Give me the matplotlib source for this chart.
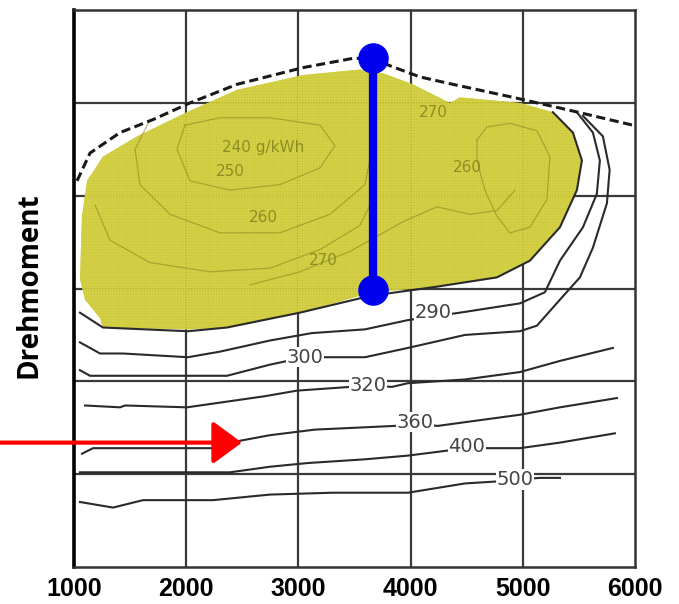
import matplotlib
matplotlib.use("Agg")
from matplotlib import pyplot as plt

# engine speed ticks (rpm)
rpm_ticks = [1000, 2000, 3000, 4000, 5000, 6000]
torque_grid = [0, 50, 100, 150, 200, 250, 300]

# full load curve (dashed)
full_rpm = [1027, 1143, 1410, 1704, 2034, 2453, 3041, 3487, 3665, 3817, 4084, 4378, 4913, 5421, 5982]
full_tq = [208, 223, 234, 241, 250, 260, 269, 274, 274, 270, 264, 260, 253, 246, 238]

# highlighted (yellow) operating area
area_rpm = [3549, 3041, 2453, 2007, 1562, 1258, 1116, 1071, 1053, 1098, 1232, 1258, 2016, 2364, 3014,
            3665, 4235, 4770, 5064, 5332, 5483, 5528, 5448, 5269, 4975, 4440, 4351, 4021, 3754]
area_tq = [268, 265, 257, 245, 232, 221, 208, 189, 155, 144, 134, 129, 128, 129, 137,
           148, 151, 156, 165, 183, 203, 219, 234, 245, 250, 253, 250, 260, 266]

# bsfc lines below the area (g/kWh)
edge_rpm = [1053, 1258, 2016, 2364, 3014, 3638, 4235, 4770, 5064, 5332, 5483, 5528, 5448, 5269]
edge_tq = [137, 129, 127, 129, 137, 146, 151, 156, 165, 183, 203, 219, 234, 245]

l290_rpm = [1053, 1232, 1437, 2016, 2301, 2747, 3121, 3594, 3977, 4440, 4975, 5198, 5332, 5537, 5661, 5688, 5626, 5483]
l290_tq = [121, 115, 115, 113, 116, 122, 126, 128, 133, 137, 142, 148, 165, 183, 201, 219, 234, 245]

l300_rpm = [1053, 1143, 2364, 2747, 3059, 3264, 3594, 3977, 4485, 4975, 5127, 5332, 5510, 5626, 5751, 5775, 5715, 5537]
l300_tq = [106, 103, 103, 109, 113, 113, 113, 118, 125, 127, 130, 144, 156, 172, 196, 214, 232, 243]

l320_rpm = [1098, 1410, 1455, 2007, 2702, 2988, 3460, 3620, 3834, 3977, 4485, 4975, 5332, 5804]
l320_tq = [87, 86, 87, 86, 92, 95, 97, 98, 97, 99, 101, 105, 111, 118]

l360_rpm = [1071, 1169, 2239, 2480, 2747, 3148, 3861, 4039, 4244, 4485, 4975, 5332, 5840]
l360_tq = [61, 64, 64, 68, 71, 74, 76, 77, 76, 78, 82, 86, 91]

l400_rpm = [1053, 2390, 2747, 3086, 3594, 3977, 4369, 4503, 4681, 4975, 5332, 5822]
l400_tq = [51, 51, 54, 56, 58, 60, 63, 64, 64, 64, 67, 72]

l500_rpm = [1053, 1348, 1615, 2239, 2747, 3300, 3977, 4485, 4752, 4931, 5153, 5332]
l500_tq = [35, 32, 36, 36, 39, 40, 40, 45, 46, 47, 48, 48]

line_labels = ["290", "300", "320", "360", "400", "500"]
label_rpm = [4200, 3059, 3620, 4039, 4503, 4931]
label_tq = [137, 113, 98, 78, 65, 47]

# faint lines inside the area
c240_rpm = [1989, 1918, 2034, 2390, 2836, 3193, 3326, 3193, 2747, 2301, 1989]
c240_tq = [238, 225, 208, 203, 206, 215, 227, 238, 242, 242, 238]
c250_rpm = [1677, 1544, 1588, 1856, 2301, 2836, 3282, 3594, 3656]
c250_tq = [241, 225, 206, 190, 180, 180, 190, 206, 225]
c260_rpm = [1187, 1321, 1677, 2212, 2747, 3193, 3549, 3665]
c260_tq = [195, 176, 164, 159, 161, 171, 184, 198]
c270_rpm = [2569, 3014, 3460, 3932, 4235, 4530, 4770, 4931]
c270_tq = [152, 159, 170, 186, 194, 190, 192, 203]
c260b_rpm = [4592, 4681, 4886, 5127, 5243, 5216, 5064, 4886, 4770, 4663, 4592, 4592]
c260b_tq = [230, 237, 239, 235, 221, 198, 183, 180, 189, 203, 219, 230]

faint_labels = ["240 g/kWh", "250", "260", "270", "270", "260"]
faint_rpm = [2685, 2390, 2685, 3219, 4200, 4503]
faint_tq = [226, 213, 188, 165, 245, 215]

# marked operating range (blue) and arrow (red)
blue_rpm = [3665, 3665]
blue_tq = [274, 149]
arrow_rpm = [340, 2497]
arrow_tq = 67

fig = plt.figure(figsize=(6.79, 6.04), dpi=100)
ax = fig.add_axes([0.109, 0.0613, 0.826, 0.922])
ax.set_xlim(1000, 6000)
ax.set_ylim(0, 300)

# grid
for x in rpm_ticks[1:-1]:
    ax.axvline(x, color='#3a3a3a', lw=1.6, zorder=1)
for y in torque_grid[1:-1]:
    ax.axhline(y, color='#3a3a3a', lw=1.6, zorder=1)

# yellow area (grid shows through a little)
ax.fill(area_rpm, area_tq, facecolor='#c4bf26', edgecolor='#d6d248', hatch='++++++', lw=0,
        alpha=0.9, zorder=2)

faint = dict(color='#86821c', lw=0.9, alpha=0.55, zorder=3)
ax.plot(c240_rpm, c240_tq, **faint)
ax.plot(c250_rpm, c250_tq, **faint)
ax.plot(c260_rpm, c260_tq, **faint)
ax.plot(c270_rpm, c270_tq, **faint)
ax.plot(c260b_rpm, c260b_tq, **faint)
for t, x, y in zip(faint_labels, faint_rpm, faint_tq):
    ax.text(x, y, t, fontsize=11, color='#85811f', alpha=0.85, ha='center', va='center', zorder=3)

# bsfc lines
for xs, ys in [(edge_rpm, edge_tq), (l290_rpm, l290_tq), (l300_rpm, l300_tq),
               (l320_rpm, l320_tq), (l360_rpm, l360_tq), (l400_rpm, l400_tq), (l500_rpm, l500_tq)]:
    ax.plot(xs, ys, color='#2a2a2a', lw=1.5, zorder=4)
for t, x, y in zip(line_labels, label_rpm, label_tq):
    ax.text(x, y, t, fontsize=14, color='#444444', ha='center', va='center', zorder=5,
            bbox=dict(facecolor='white', edgecolor='none', pad=0.5))

# full load
ax.plot(full_rpm, full_tq, color='#1a1a1a', lw=2.2, ls=(0, (3, 1.5)), zorder=5)

# blue marker
ax.plot(blue_rpm, blue_tq, color='#0000ee', lw=6, zorder=6, solid_capstyle='butt')
ax.plot(blue_rpm, blue_tq, 'o', color='#0000ee', ms=21, zorder=7)

# red arrow
ax.annotate('', xy=(arrow_rpm[1], arrow_tq), xytext=(arrow_rpm[0], arrow_tq),
            arrowprops=dict(arrowstyle='-|>,head_length=0.45,head_width=0.33', color='#ff0000',
                            lw=3, mutation_scale=40, shrinkA=0, shrinkB=0),
            annotation_clip=False, zorder=8)

# axes styling
for s in ax.spines.values():
    s.set_color('#333333')
    s.set_linewidth(1.8)
ax.spines['left'].set_color('black')
ax.spines['left'].set_linewidth(2.6)
ax.set_xticks(rpm_ticks)
ax.set_xticklabels(rpm_ticks, fontsize=18, fontweight='bold', family='Liberation Sans')
ax.tick_params(axis='x', length=0, pad=7)
ax.set_yticks([])
fig.text(29 / 679, 1 - 285 / 604, 'Drehmoment', rotation=90, ha='center', va='center',
         fontsize=20, fontweight='bold', family='Open Sans')

plt.savefig('out.png')
